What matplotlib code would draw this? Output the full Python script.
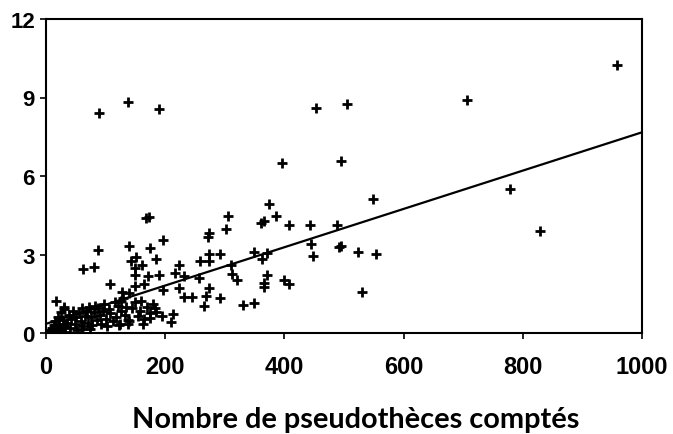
import matplotlib
matplotlib.use("Agg")
import matplotlib.pyplot as plt
import numpy as np

# Scatter data: number of pseudothecia counted (x) vs measured value (y)
x_vals = [957.5, 706.7, 89.6, 137.4, 189.0, 452.6, 504.3, 396.0, 495.7, 778.4,
          829.5, 548.8, 373.6, 385.5, 305.2, 301.3, 360.3, 365.0, 407.4, 442.6,
          489.0, 445.3, 447.9, 492.4, 494.4, 523.6, 554.0, 529.5, 398.8, 407.4,
          370.3, 366.3, 365.0, 349.7, 361.6, 371.6, 348.4, 329.8, 310.6, 311.9,
          319.8, 292.0, 273.4, 271.4, 273.4, 273.4, 258.8, 257.5, 273.4, 268.7,
          264.8, 292.6, 232.3, 245.5, 223.6, 230.9, 215.7, 223.6, 197.1, 173.9,
          183.8, 167.9, 173.2, 140.0, 142.7, 151.3, 161.2, 149.3, 149.3, 170.5,
          189.1, 86.9, 61.7, 81.0, 108.2, 149.3, 163.9, 197.1, 128.1, 140.0,
          126.1, 159.3, 182.5, 184.5, 194.4, 212.3, 209.0, 174.5, 163.0, 137.4,
          140.0, 124.8, 102.9, 74.3, 59.7, 16.6, 29.9,
          5, 8, 10, 12, 13, 15, 15, 18, 20, 20, 22, 25, 25, 28, 30, 30, 32, 35,
          38, 40, 42, 45, 48, 50, 52, 55, 58, 60, 62, 65, 68, 70, 72, 75, 78, 80,
          82, 85, 88, 90, 92, 95, 98, 100, 105, 108, 112, 115, 118, 120, 122, 125,
          130, 132, 135, 138, 145, 150, 155, 158, 165, 170, 175, 180]
y_vals = [10.24, 8.92, 8.39, 8.84, 8.55, 8.61, 8.76, 6.51, 6.57, 5.50,
          3.89, 5.13, 4.93, 4.48, 4.48, 3.97, 4.22, 4.27, 4.13, 4.13,
          4.13, 3.39, 2.94, 3.30, 3.34, 3.11, 3.01, 1.58, 2.03, 1.86,
          2.23, 1.91, 1.75, 3.11, 2.84, 3.06, 1.15, 1.08, 2.60, 2.25,
          2.03, 3.01, 3.82, 3.67, 3.02, 2.76, 2.76, 2.11, 1.73, 1.43,
          1.04, 1.35, 1.36, 1.36, 2.60, 2.19, 2.29, 1.73, 3.55, 3.26,
          2.83, 4.38, 4.42, 3.32, 2.76, 2.89, 2.59, 2.47, 2.23, 2.19,
          2.23, 3.18, 2.45, 2.54, 1.86, 1.81, 1.86, 1.64, 1.55, 1.53,
          1.21, 1.21, 0.96, 0.82, 0.66, 0.73, 0.41, 0.56, 0.36, 0.36,
          0.46, 0.36, 0.28, 0.15, 0.15, 1.24, 1.00,
          0.05, 0.10, 0.20, 0.00, 0.30, 0.10, 0.45, 0.20, 0.05, 0.60, 0.35, 0.15,
          0.80, 0.50, 0.25, 0.90, 0.05, 0.40, 0.70, 0.20, 0.55, 0.85, 0.35, 0.60,
          0.10, 0.75, 0.45, 0.95, 0.25, 0.65, 0.85, 0.40, 1.00, 0.60, 0.30, 0.80,
          1.05, 0.50, 0.95, 0.70, 0.35, 0.85, 1.10, 0.55, 0.90, 0.75, 0.45, 1.20,
          0.60, 1.05, 0.30, 0.85, 1.35, 0.70, 1.00, 0.50, 0.95, 1.20, 0.65, 0.85,
          0.55, 1.00, 0.75, 1.10]

# Linear trend line (intercept, slope)
trend_intercept = 0.35
trend_slope = 0.00732
trend_x = [0, 1000]

x_ticks = [0, 200, 400, 600, 800, 1000]
y_ticks = [0, 3, 6, 9, 12]
x_label = "Nombre de pseudothèces comptés"

fig = plt.figure(figsize=(6.73, 4.35), dpi=100)
ax = fig.add_axes([46 / 673, 1 - 334 / 435, (642 - 46) / 673, (334 - 20) / 435])

ax.plot(x_vals, y_vals, linestyle="none", marker="+", color="black",
        markersize=7.5, markeredgewidth=2.0)
tx = np.array(trend_x, dtype=float)
ax.plot(tx, trend_intercept + trend_slope * tx, color="black", linewidth=1.6)

ax.set_xlim(0, 1000)
ax.set_ylim(0, 12)
ax.set_xticks(x_ticks)
ax.set_yticks(y_ticks)
ax.set_xticklabels([str(v) for v in x_ticks], fontfamily="Liberation Sans",
                   fontweight="bold", fontsize=17)
ax.set_yticklabels([str(v) for v in y_ticks], fontfamily="Liberation Sans",
                   fontweight="bold", fontsize=16)
ax.tick_params(axis="both", direction="out", length=4.5, width=1.2, color="black")
ax.tick_params(axis="x", pad=11)
ax.tick_params(axis="y", pad=3.5)
for s in ax.spines.values():
    s.set_linewidth(1.5)
    s.set_color("black")

fig.text(356 / 673, 1 - 428 / 435, x_label, ha="center", va="baseline",
         fontfamily="Lato", fontweight="bold", fontsize=20.8)

fig.savefig("out.png", dpi=100)
